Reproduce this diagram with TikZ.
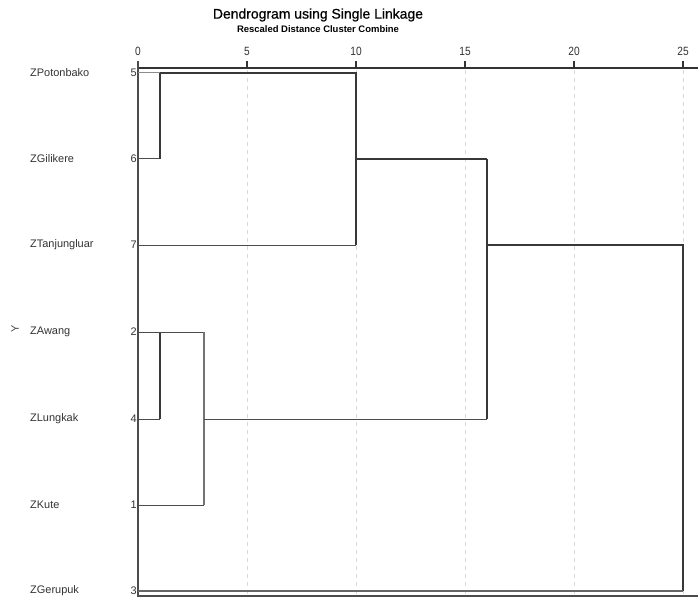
\documentclass[tikz,border=0pt]{standalone}
\usepackage{fontspec}
\setmainfont{Liberation Sans}
\newfontfamily\titlefont[FakeBold=0.7]{Liberation Sans}
\newcommand{\tickfmt}[1]{\scalebox{0.85}[1]{#1}}
\begin{document}
\begin{tikzpicture}[x=1bp,y=-1bp,
  namelbl/.style={anchor=west,inner sep=0pt,font=\fontsize{11}{12}\selectfont,text=black!80},
  numlbl/.style={anchor=east,inner sep=0pt,font=\fontsize{11}{12}\selectfont,text=black!80},
  ticklbl/.style={anchor=base,inner sep=0pt,font=\fontsize{12}{13}\selectfont,text=black!80},
  grid/.style={black!15,line width=0.8bp,dash pattern=on 4bp off 4bp},
  link/.style={black!78,line width=1.3bp},
  thinlink/.style={black!70,line width=1bp},
  axisline/.style={black!80,line width=1.4bp}]
\useasboundingbox (0,0) rectangle (698,600);
% title
\node[inner sep=0pt,font=\titlefont\fontsize{14}{16}\selectfont] (title) at (318,15) {Dendrogram using Single Linkage};
\node[inner sep=0pt,font=\bfseries\fontsize{9.5}{11}\selectfont] (sub) at (318,29) {Rescaled Distance Cluster Combine};
% grid
\foreach \v/\px in {5/247,10/356,15/465,20/574,25/683}{
  \draw[grid] (\px,70) -- (\px,596);
}
% axis
\coordinate (ax0) at (138,68);
\coordinate (ax1) at (698,68);
\draw[axisline] (ax0) -- (ax1);
\foreach \v/\px in {0/138,5/247,10/356,15/465,20/574,25/683}{
  \draw[axisline,line width=1.2bp] (\px,68) -- (\px,61);
  \node[ticklbl] (t\v) at (\px,56) {\tickfmt{\v}};
}
% frame lines
\coordinate (fl0) at (138,61);
\coordinate (fl1) at (138,596);
\coordinate (fb1) at (698,596);
\draw[black!70,line width=1.4bp] (fl0) -- (fl1) -- (fb1);
% labels
\foreach \n/\nm/\py in {5/ZPotonbako/73,6/ZGilikere/159,7/ZTanjungluar/245,2/ZAwang/332,4/ZLungkak/419,1/ZKute/505,3/ZGerupuk/591}{
  \node[namelbl] (name\n) at (30,\py) {\nm};
  \node[numlbl] (num\n) at (137,\py) {\n};
  \coordinate (l\n) at (138,\py);
}
\node[inner sep=0pt,rotate=90,font=\fontsize{11}{12}\selectfont,text=black!70] (ylab) at (15,329) {Y};
% dendrogram coordinates
\coordinate (a6) at (160,159);
\coordinate (a5) at (160,73);
\coordinate (b5) at (356,73);
\coordinate (b7) at (356,245);
\coordinate (b6) at (356,159);
\coordinate (c6) at (487,159);
\coordinate (a4) at (160,419);
\coordinate (a2) at (160,332);
\coordinate (d2) at (204,332);
\coordinate (d1) at (204,505);
\coordinate (d4) at (204,419);
\coordinate (c4) at (487,419);
\coordinate (c7) at (487,245);
\coordinate (e7) at (683,245);
\coordinate (e3) at (683,591);
% links
\draw[thinlink] (l6) -- (a6);
\draw[link] (a6) -- (a5);
\draw[black!45,line width=1bp] (l5) -- (a5);
\draw[link] (a5) -- (b5) -- (b7);
\draw[thinlink] (l7) -- (b7);
\draw[link] (b6) -- (c6);
\draw[thinlink] (l4) -- (a4);
\draw[link] (a4) -- (a2);
\draw[thinlink] (l2) -- (d2);
\draw[black!55,line width=1.2bp] (d2) -- (d1);
\draw[thinlink] (d1) -- (l1);
\draw[thinlink] (d4) -- (c4);
\draw[link] (c4) -- (c6);
\draw[link] (c7) -- (e7) -- (e3);
\draw[black!60,line width=1.3bp] (e3) -- (l3);
\end{tikzpicture}
\end{document}
